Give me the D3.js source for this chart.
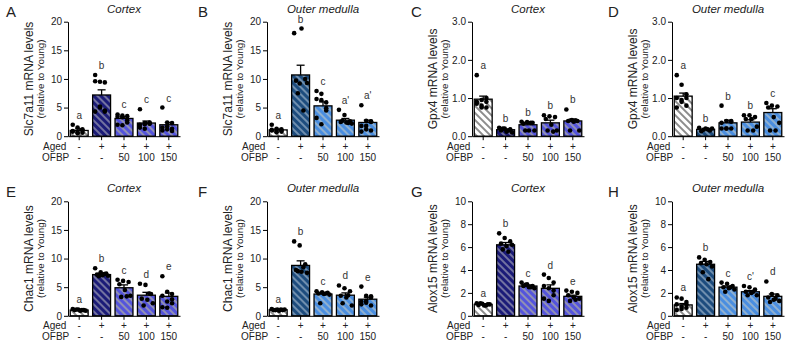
<html><head>
<script src="https://d3js.org/d3.v7.min.js"></script>
<style>
  body { margin: 0; background: #fff; }
  svg text { font-family: "Liberation Sans", Arial, sans-serif; fill: #222; }
  .axis path, .axis line { stroke: #000; stroke-width: 1; }
  .axis text { font-size: 10px; }
  .title { font-size: 11.5px; font-style: italic; text-anchor: middle; }
  .letter { font-size: 15px; }
  .ylab { font-size: 12px; text-anchor: middle; }
  .ysub { font-size: 9.8px; text-anchor: middle; }
  .rowlab { font-size: 10px; }
  .sig { font-size: 10px; text-anchor: middle; fill: #333; }
</style>
</head>
<body>
<svg id="fig" width="791" height="348"></svg>
<script>
// groups and x labels
const groups = ["Young", "Aged", "OFBP50", "OFBP100", "OFBP150"];
const agedRow = ["-", "+", "+", "+", "+"];
const ofbpRow = ["-", "-", "50", "100", "150"];

// A: Slc7a11 cortex
const aMean = [1.0, 7.2, 3.1, 2.3, 2.0];
const aSem = [0.3, 0.9, 0.3, 0.35, 0.4];
const aDots = [[2.0, 1.5, 1.0, 0.8, 0.5, 0.6, 0.9, 0.7, 1.2],
               [10.7, 9.5, 9.4, 9.6, 5.2, 4.3, 4.3, 5.0, 4.5],
               [3.8, 3.6, 3.5, 3.4, 3.3, 2.8, 2.0, 1.9, 2.4],
               [4.7, 2.3, 2.2, 2.0, 2.1, 2.4, 1.5, 1.3, 2.2],
               [5.0, 2.4, 2.3, 1.5, 1.2, 0.9, 1.0, 1.7, 1.3]];
const aSig = ["a", "b", "c", "c", "c"];

// B: Slc7a11 outer medulla
const bMean = [1.1, 10.7, 5.3, 2.8, 2.4];
const bSem = [0.15, 1.7, 0.7, 0.3, 0.4];
const bDots = [[2.0, 1.3, 1.2, 1.0, 0.9, 0.8, 1.1, 0.7, 1.0],
               [18.0, 9.2, 10.0, 9.7, 18.8, 9.3, 7.5, 4.5],
               [7.9, 6.3, 5.9, 6.5, 7.4, 4.5, 3.2, 2.1, 4.9],
               [4.6, 3.7, 2.6, 2.5, 2.4, 2.2, 2.7, 2.3],
               [5.4, 2.7, 2.5, 1.8, 1.2, 1.0, 0.8, 1.8, 2.6]];
const bSig = ["a", "b", "c", "a'", "a'"];

// C: Gpx4 cortex
const cMean = [0.97, 0.17, 0.3, 0.35, 0.4];
const cSem = [0.08, 0.02, 0.04, 0.07, 0.05];
const cDots = [[1.6, 0.95, 0.9, 0.85, 0.75, 0.75, 0.9, 0.8, 1.0],
               [0.22, 0.2, 0.18, 0.15, 0.12, 0.1, 0.2, 0.15],
               [0.38, 0.37, 0.35, 0.33, 0.15, 0.15, 0.15, 0.35],
               [0.55, 0.52, 0.5, 0.45, 0.3, 0.15, 0.15, 0.12],
               [0.7, 0.42, 0.4, 0.4, 0.38, 0.15, 0.15, 0.41]];
const cSig = ["a", "b", "b", "b", "b"];

// D: Gpx4 outer medulla
const dMean = [1.05, 0.18, 0.35, 0.37, 0.62];
const dSem = [0.08, 0.02, 0.07, 0.06, 0.1];
const dDots = [[1.6, 1.35, 1.0, 1.0, 0.95, 0.8, 0.75, 0.9, 1.1],
               [0.22, 0.2, 0.2, 0.17, 0.15, 0.13, 0.18],
               [0.8, 0.4, 0.38, 0.35, 0.2, 0.2, 0.2, 0.2, 0.4],
               [0.55, 0.55, 0.5, 0.45, 0.45, 0.25, 0.15, 0.15],
               [0.87, 0.8, 0.78, 0.75, 0.5, 0.35, 0.15, 0.15]];
const dSig = ["a", "b", "b", "b", "c"];

// E: Chac1 cortex
const eMean = [1.0, 7.2, 4.9, 3.6, 3.4];
const eSem = [0.05, 0.2, 0.5, 0.5, 0.6];
const eDots = [[1.2, 1.1, 1.0, 1.0, 0.9, 0.9, 1.1, 1.0],
               [8.3, 7.6, 7.4, 7.2, 7.1, 7.0, 6.9, 7.3],
               [6.3, 6.1, 5.9, 5.5, 4.5, 3.5, 3.3, 3.4],
               [5.6, 5.4, 3.8, 3.0, 2.8, 2.2, 1.8, 3.9],
               [6.9, 4.2, 3.8, 3.5, 2.5, 2.2, 1.5, 1.4, 2.9]];
const eSig = ["a", "b", "c", "d", "e"];

// F: Chac1 outer medulla
const fMean = [1.05, 8.8, 3.8, 3.6, 2.9];
const fSem = [0.05, 0.8, 0.15, 0.4, 0.35];
const fDots = [[1.2, 1.1, 1.0, 1.0, 0.9, 1.1, 1.0, 1.1],
               [13.0, 12.3, 9.0, 8.0, 7.7, 7.5, 7.8, 8.5],
               [4.3, 4.1, 4.0, 3.9, 3.8, 3.7, 2.2, 3.9],
               [5.3, 4.8, 4.3, 3.5, 3.2, 1.8, 2.2, 3.6],
               [5.1, 3.5, 3.4, 2.5, 2.3, 1.8, 2.0, 2.6, 3.2]];
const fSig = ["a", "b", "c", "d", "e"];

// G: Alox15 cortex
const gMean = [1.0, 6.2, 2.6, 2.4, 1.7];
const gSem = [0.05, 0.2, 0.1, 0.3, 0.1];
const gDots = [[1.1, 1.05, 1.0, 0.95, 0.9, 1.0, 1.1, 0.9],
               [7.2, 6.8, 6.5, 6.3, 6.1, 6.2, 5.8, 5.6],
               [2.9, 2.75, 2.6, 2.6, 2.5, 2.4, 2.7, 2.5],
               [3.6, 3.3, 2.9, 2.6, 2.4, 1.8, 1.5, 1.3, 2.2],
               [2.2, 2.1, 2.0, 1.8, 1.6, 1.5, 1.3, 1.4]];
const gSig = ["a", "b", "c", "d", "e"];

// H: Alox15 outer medulla
const hMean = [0.95, 4.5, 2.5, 2.1, 1.7];
const hSem = [0.12, 0.25, 0.1, 0.1, 0.2];
const hDots = [[1.6, 1.5, 1.2, 1.0, 0.8, 0.7, 0.5, 0.6, 1.0],
               [5.1, 4.9, 4.7, 4.6, 4.5, 4.3, 3.8, 3.2],
               [2.9, 2.8, 2.6, 2.5, 2.4, 2.3, 2.1, 2.5],
               [2.6, 2.5, 2.3, 2.1, 2.0, 1.8, 1.8, 2.1],
               [3.0, 1.9, 1.8, 1.6, 1.4, 1.3, 1.2, 1.5]];
const hSig = ["a", "b", "c", "c'", "d"];

const ticks20 = [0, 5, 10, 15, 20];
const ticks3 = [0, 1, 2, 3];
const ticks10 = [0, 2, 4, 6, 8, 10];

const panels = [
  {letter: "A", title: "Cortex", gene: "Slc7a11", ticks: ticks20, mean: aMean, sem: aSem, dots: aDots, sig: aSig, col: 0, row: 0},
  {letter: "B", title: "Outer medulla", gene: "Slc7a11", ticks: ticks20, mean: bMean, sem: bSem, dots: bDots, sig: bSig, col: 1, row: 0},
  {letter: "C", title: "Cortex", gene: "Gpx4", ticks: ticks3, mean: cMean, sem: cSem, dots: cDots, sig: cSig, col: 2, row: 0},
  {letter: "D", title: "Outer medulla", gene: "Gpx4", ticks: ticks3, mean: dMean, sem: dSem, dots: dDots, sig: dSig, col: 3, row: 0},
  {letter: "E", title: "Cortex", gene: "Chac1", ticks: ticks20, mean: eMean, sem: eSem, dots: eDots, sig: eSig, col: 0, row: 1},
  {letter: "F", title: "Outer medulla", gene: "Chac1", ticks: ticks20, mean: fMean, sem: fSem, dots: fDots, sig: fSig, col: 1, row: 1},
  {letter: "G", title: "Cortex", gene: "Alox15", ticks: ticks10, mean: gMean, sem: gSem, dots: gDots, sig: gSig, col: 2, row: 1},
  {letter: "H", title: "Outer medulla", gene: "Alox15", ticks: ticks10, mean: hMean, sem: hSem, dots: hDots, sig: hSig, col: 3, row: 1}
];

// layout
const axisX = [68, 267, 472, 672];
const letterX = [6, 198, 411, 608];
const plotTop = [21.7, 201.3];
const plotH = 114.5;
const plotW = 112;

const svg = d3.select("#fig");

// hatch patterns: [id, background, stripe]
const fills = [
  ["young", "#ffffff", "#8c8c8c"],
  ["agedCx", "#1b1b78", "#7272a0"],
  ["ofbpCx", "#5454dc", "#9090b4"],
  ["agedOm", "#1d4c7e", "#6f8eae"],
  ["ofbpOm", "#4a8ee0", "#8fb0d0"]
];
let defs = svg.append("defs");
fills.forEach(f => {
  let p = defs.append("pattern")
    .attr("id", f[0])
    .attr("patternUnits", "userSpaceOnUse")
    .attr("width", 5).attr("height", 5)
    .attr("patternTransform", "rotate(-45)");
  p.append("rect").attr("width", 5).attr("height", 5).attr("fill", f[1]);
  p.append("rect").attr("width", 2).attr("height", 5).attr("fill", f[2]);
});

function fillFor(panel, i) {
  if (i == 0) return "url(#young)";
  let om = panel.title != "Cortex";
  if (i == 1) return om ? "url(#agedOm)" : "url(#agedCx)";
  return om ? "url(#ofbpOm)" : "url(#ofbpCx)";
}

panels.forEach(p => {
  let x0 = axisX[p.col];
  let top = plotTop[p.row];
  let bottom = top + plotH;

  let x = d3.scaleBand().domain(groups).range([x0, x0 + plotW]).paddingInner(0.2).paddingOuter(0.1);
  let yMax = p.ticks[p.ticks.length - 1];
  let y = d3.scaleLinear().domain([0, yMax]).range([bottom, top]);
  let bw = x.bandwidth();

  let g = svg.append("g");

  // bars
  groups.forEach((grp, i) => {
    g.append("rect")
      .attr("x", x(grp))
      .attr("y", y(p.mean[i]))
      .attr("width", bw)
      .attr("height", y(0) - y(p.mean[i]))
      .attr("fill", fillFor(p, i))
      .attr("stroke", "#000")
      .attr("stroke-width", 1.3);

    // error bar (upper only)
    let cx = x(grp) + bw / 2;
    let yTop = y(p.mean[i] + p.sem[i]);
    g.append("line").attr("x1", cx).attr("x2", cx)
      .attr("y1", y(p.mean[i])).attr("y2", yTop)
      .attr("stroke", "#000").attr("stroke-width", 1.3);
    g.append("line").attr("x1", cx - 4).attr("x2", cx + 4)
      .attr("y1", yTop).attr("y2", yTop)
      .attr("stroke", "#000").attr("stroke-width", 1.3);

    // dots
    let n = p.dots[i].length;
    p.dots[i].forEach((v, j) => {
      let off = ((j * 3) % n) / (n - 1) - 0.5;
      g.append("circle")
        .attr("cx", cx + off * bw * 0.72)
        .attr("cy", y(v))
        .attr("r", 2.3)
        .attr("fill", "#000");
    });

    // significance letter
    let hi = Math.max(d3.max(p.dots[i]), p.mean[i] + p.sem[i]);
    g.append("text")
      .attr("class", "sig")
      .attr("x", cx)
      .attr("y", y(hi) - 6)
      .text(p.sig[i]);
  });

  // axes
  g.append("g")
    .attr("class", "axis")
    .attr("transform", "translate(" + x0 + ",0)")
    .call(d3.axisLeft(y).tickValues(p.ticks).tickSize(4).tickSizeOuter(0).tickPadding(2));
  g.append("g")
    .attr("class", "axis")
    .attr("transform", "translate(0," + bottom + ")")
    .call(d3.axisBottom(x).tickSize(4).tickSizeOuter(0).tickFormat(""));

  // Aged / OFBP rows
  g.append("text").attr("class", "rowlab").attr("x", x0 - 25).attr("y", bottom + 13.5).text("Aged");
  g.append("text").attr("class", "rowlab").attr("x", x0 - 26).attr("y", bottom + 24.5).text("OFBP");
  groups.forEach((grp, i) => {
    let cx = x(grp) + bw / 2;
    g.append("text").attr("class", "rowlab").attr("text-anchor", "middle")
      .attr("x", cx).attr("y", bottom + 13.5).text(agedRow[i]);
    g.append("text").attr("class", "rowlab").attr("text-anchor", "middle")
      .attr("x", cx).attr("y", bottom + 24.5).text(ofbpRow[i]);
  });

  // titles
  g.append("text").attr("class", "title")
    .attr("x", x0 + plotW / 2).attr("y", top - 9).text(p.title);
  g.append("text").attr("class", "letter")
    .attr("x", letterX[p.col]).attr("y", top - 4.5).text(p.letter);

  // y labels
  let midY = (top + bottom) / 2;
  g.append("text").attr("class", "ylab")
    .attr("transform", "translate(" + (x0 - 35.5) + "," + midY + ") rotate(-90)")
    .text(p.gene + " mRNA levels");
  g.append("text").attr("class", "ysub")
    .attr("transform", "translate(" + (x0 - 24.5) + "," + midY + ") rotate(-90)")
    .text("(relative to Young)");
});
</script>
</body>
</html>
